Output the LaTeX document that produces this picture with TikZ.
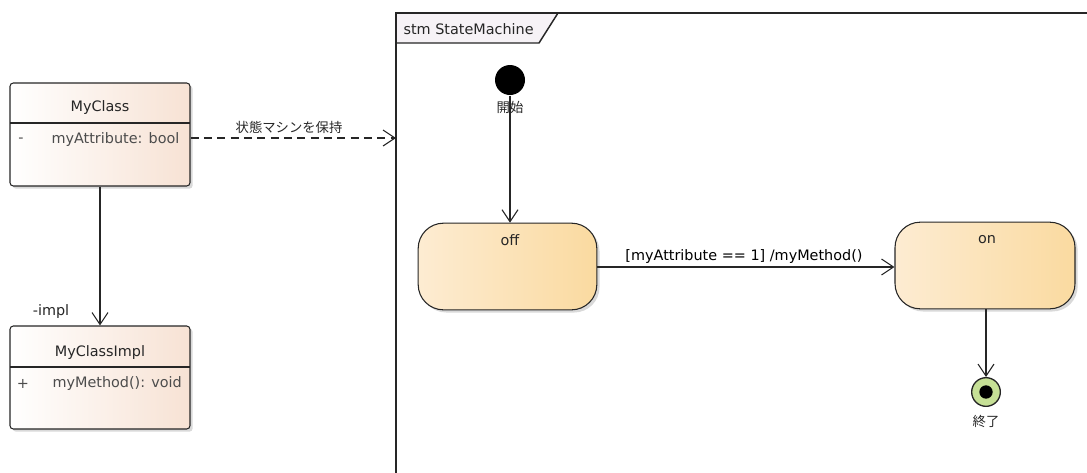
\documentclass[tikz,border=0pt]{standalone}
\usepackage{fontspec}
\setmainfont{DejaVu Sans}
\newfontfamily\jp{Noto Sans CJK JP}
\usetikzlibrary{arrows.meta,shadows}
\begin{document}
\begin{tikzpicture}[x=0.75pt,y=-0.75pt,
  font=\fontsize{10.8}{12}\selectfont,
  line width=0.8pt,
  classbox/.style={draw=black!85, rounded corners=2.5pt, left color=white, right color={rgb,255:red,247;green,226;blue,212},
    drop shadow={shadow xshift=2pt, shadow yshift=-2pt, fill=black!25, opacity=0.6}},
  statebox/.style={draw=black!85, rounded corners=19pt, left color={rgb,255:red,253;green,236;blue,210}, right color={rgb,255:red,250;green,218;blue,160},
    drop shadow={shadow xshift=2pt, shadow yshift=-2pt, fill=black!25, opacity=0.6}},
  lbl/.style={inner sep=0pt, text=black!85},
  jplbl/.style={inner sep=0pt, text=black!85, font=\jp\fontsize{10}{12}\selectfont},
  open/.style={-{Straight Barb[length=9pt,width=12pt]}},
]
\useasboundingbox (0,0) rectangle (1087,472);

% ---- MyClass
\node[classbox, minimum width=135pt, minimum height=77.25pt] (myclass) at (100,134.5) {};
\draw[black!85] (10,123) -- (190,123);
\node[lbl] (myclassT) at (100,108) {MyClass};
\node[lbl, text=black!70] (attrV) at (21,140) {-};
\node[lbl, text=black!70, anchor=west] (attr) at (51,140) {myAttribute: bool};

% ---- MyClassImpl
\node[classbox, minimum width=135pt, minimum height=77.25pt] (impl) at (100,377.5) {};
\draw[black!85] (10,367) -- (190,367);
\node[lbl] (implT) at (100,353) {MyClassImpl};
\node[lbl, text=black!70] (methV) at (23,384) {+};
\node[lbl, text=black!70, anchor=west] (meth) at (52,384) {myMethod(): void};

% ---- association
\draw[open, black!85] (myclass.south) -- (impl.north);
\node[lbl] (implL) at (51,312) {-impl};

% ---- frame
\draw[black!85, line width=1.1pt, fill={rgb,255:red,246;green,242;blue,246}] (396,13) -- (558,13) -- (539,43) -- (396,43) -- cycle;
\draw[black!85, line width=1.1pt] (396,480) -- (396,13) -- (1090,13);
\node[lbl, anchor=west] (stm) at (403,29) {stm StateMachine};
\coordinate (frameL) at (396,138);

% ---- dependency
\draw[open, dashed, dash pattern=on 6pt off 4pt, black!85] (myclass.east |- frameL) -- (frameL);
\node[jplbl] (depL) at (289,127) {状態マシンを保持};

% ---- states
\node[statebox, minimum width=134pt, minimum height=65pt] (off) at (507.5,266.5) {};
\node[lbl] (offT) at (510,240) {off};
\node[statebox, minimum width=135pt, minimum height=65pt] (on) at (985,265.5) {};
\node[lbl] (onT) at (987,240) {on};
\node[circle, fill=black, minimum size=22.5pt, inner sep=0pt] (init) at (510,80) {};
\node[jplbl] (initL) at (510,107) {開始};
\node[circle, draw=black!85, line width=1pt, fill={rgb,255:red,198;green,224;blue,150}, minimum size=21.5pt, inner sep=0pt] (fin) at (986,392) {};
\node[circle, fill=black, minimum size=10pt, inner sep=0pt] (finD) at (986,392) {};
\node[jplbl] (finL) at (986,421) {終了};

\draw[open, black!85] (init.south) -- (init.south |- off.north);
\draw[open, black!85] (off.east |- 0,267) -- (on.west |- 0,267);
\node[lbl, text=black] (trL) at (744,257) {[myAttribute == 1] /myMethod()};
\draw[open, black!85] (on.south -| fin) -- (fin.north);
\end{tikzpicture}
\end{document}
